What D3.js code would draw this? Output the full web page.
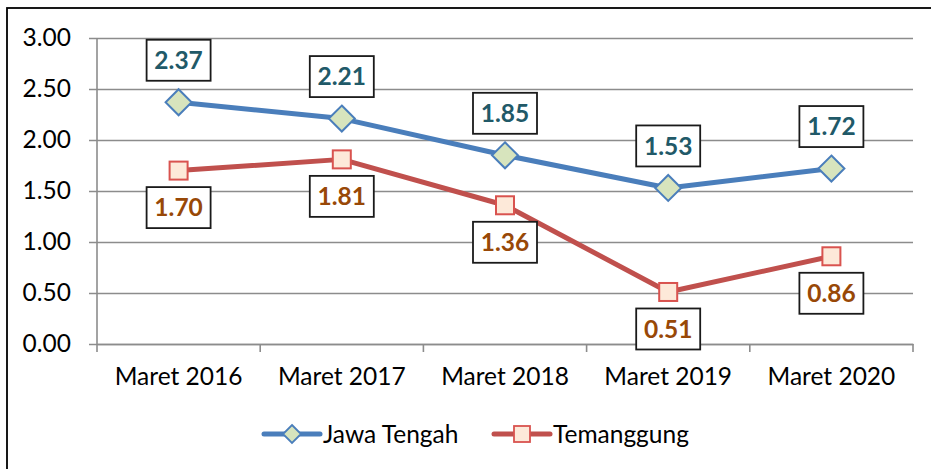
<!DOCTYPE html>
<html>
<head>
<meta charset="utf-8">
<script src="https://cdn.jsdelivr.net/npm/d3@7"></script>
<style>
  body { margin: 0; background: #fff; }
  text { font-family: Lato, "Open Sans", sans-serif; }
</style>
</head>
<body>
<div id="canvas"></div>
<script>
var categories = ['Maret 2016', 'Maret 2017', 'Maret 2018', 'Maret 2019', 'Maret 2020'];
var jawaTengah = [2.37, 2.21, 1.85, 1.53, 1.72];
var temanggung = [1.70, 1.81, 1.36, 0.51, 0.86];
var yTicks = [0, 0.5, 1, 1.5, 2, 2.5, 3];

var W = 931, H = 469;
var m = {t: 38, r: 18, b: 125, l: 97};
var w = W - m.l - m.r,
    h = H - m.t - m.b;
var fs = 24.5;

var svg = d3.select('#canvas')
    .append('svg')
    .attr('width', W)
    .attr('height', H);

// outer frame (only top and left visible in the picture)
svg.append('rect')
    .attr('x', 7).attr('y', 8)
    .attr('width', W + 20).attr('height', H + 20)
    .attr('fill', 'none')
    .attr('stroke', '#000')
    .attr('stroke-width', 1.8);

var plot = svg.append('g')
    .attr('transform', 'translate(' + m.l + ',' + m.t + ')');

var scaleX = d3.scaleBand().domain(categories).range([0, w]);
var scaleY = d3.scaleLinear().domain([0, 3]).range([h, 0]);
var cx = function(d, i) { return scaleX(categories[i]) + scaleX.bandwidth() / 2; };

// y axis with grid
var axisY = d3.axisLeft(scaleY)
    .tickValues(yTicks)
    .tickFormat(d3.format('.2f'))
    .tickSize(-w)
    .tickPadding(26);

var gy = plot.append('g').attr('class', 'axis axis-y').call(axisY);
gy.select('.domain').remove();
gy.selectAll('.tick line')
    .attr('x1', -8)
    .attr('stroke', '#8c8c8c')
    .attr('stroke-width', 1.6);
gy.selectAll('.tick text')
    .attr('font-size', fs)
    .attr('fill', '#000')
    .style('font-family', 'Lato, sans-serif');

plot.append('line')
    .attr('x1', 0).attr('x2', 0)
    .attr('y1', 0).attr('y2', h)
    .attr('stroke', '#8c8c8c').attr('stroke-width', 1.6);

// x axis
var axisX = d3.axisBottom(scaleX).tickSize(0).tickPadding(24);
var gx = plot.append('g').attr('class', 'axis axis-x')
    .attr('transform', 'translate(0,' + h + ')')
    .call(axisX);
gx.select('.domain').attr('stroke', '#8c8c8c').attr('stroke-width', 1.6);
gx.selectAll('.tick text')
    .attr('font-size', fs)
    .attr('fill', '#000')
    .style('font-family', 'Lato, sans-serif');

var bounds = categories.map(function(d) { return scaleX(d); }).concat([w]);
gx.selectAll('.bound')
    .data(bounds)
    .enter()
    .append('line')
    .attr('x1', function(d) { return d; })
    .attr('x2', function(d) { return d; })
    .attr('y1', 0).attr('y2', 8)
    .attr('stroke', '#8c8c8c').attr('stroke-width', 1.6);

var line = d3.line()
    .x(cx)
    .y(function(d) { return scaleY(d); });

var series = [
  {name: 'Jawa Tengah', values: jawaTengah, color: '#4a7ebb', marker: 'diamond',
   fill: '#d7e4bd', mstroke: '#4a7ebb', label: '#215968', dy: -42},
  {name: 'Temanggung', values: temanggung, color: '#c0504d', marker: 'square',
   fill: '#fde9d9', mstroke: '#d9534f', label: '#984807', dy: 37}
];

function drawMarker(g, s, x, y) {
  if (s.marker === 'diamond') {
    g.append('path')
      .attr('d', 'M' + x + ',' + (y - 13) + 'L' + (x + 13) + ',' + y + 'L' + x + ',' + (y + 13) + 'L' + (x - 13) + ',' + y + 'Z')
      .attr('fill', s.fill).attr('stroke', s.mstroke).attr('stroke-width', 2);
  } else {
    g.append('rect')
      .attr('x', x - 9).attr('y', y - 9)
      .attr('width', 18).attr('height', 18)
      .attr('fill', s.fill).attr('stroke', s.mstroke).attr('stroke-width', 2);
  }
}

series.forEach(function(s) {
  plot.append('path')
      .datum(s.values)
      .attr('d', line)
      .attr('fill', 'none')
      .attr('stroke', s.color)
      .attr('stroke-width', 5)
      .attr('stroke-linejoin', 'round');

  s.values.forEach(function(v, i) {
    drawMarker(plot, s, cx(v, i), scaleY(v));
  });
});

// data labels
series.forEach(function(s) {
  s.values.forEach(function(v, i) {
    var x = cx(v, i), y = scaleY(v) + s.dy;
    plot.append('rect')
        .attr('x', x - 32).attr('y', y - 20.5)
        .attr('width', 64).attr('height', 41)
        .attr('fill', '#fff')
        .attr('stroke', '#1a1a1a')
        .attr('stroke-width', 1.8);
    plot.append('text')
        .attr('x', x).attr('y', y)
        .attr('dy', '0.36em')
        .attr('text-anchor', 'middle')
        .attr('font-size', fs)
        .attr('font-weight', 'bold')
        .attr('fill', s.label)
        .text(v.toFixed(2));
  });
});

// legend
var legend = svg.append('g').attr('transform', 'translate(0,434)');
var legendPos = [264, 494];
series.forEach(function(s, i) {
  var x0 = legendPos[i];
  legend.append('line')
      .attr('x1', x0).attr('x2', x0 + 56)
      .attr('y1', 0).attr('y2', 0)
      .attr('stroke', s.color).attr('stroke-width', 5)
      .attr('stroke-linecap', 'round');
  if (s.marker === 'diamond') {
    legend.append('path')
      .attr('d', 'M' + (x0 + 28) + ',-9L' + (x0 + 37) + ',0L' + (x0 + 28) + ',9L' + (x0 + 19) + ',0Z')
      .attr('fill', s.fill).attr('stroke', s.mstroke).attr('stroke-width', 1.8);
  } else {
    legend.append('rect')
      .attr('x', x0 + 20).attr('y', -8)
      .attr('width', 16).attr('height', 16)
      .attr('fill', s.fill).attr('stroke', s.mstroke).attr('stroke-width', 1.8);
  }
  legend.append('text')
      .attr('x', x0 + 59).attr('y', 0)
      .attr('dy', '0.36em')
      .attr('font-size', fs)
      .attr('fill', '#000')
      .text(s.name);
});
</script>
</body>
</html>
